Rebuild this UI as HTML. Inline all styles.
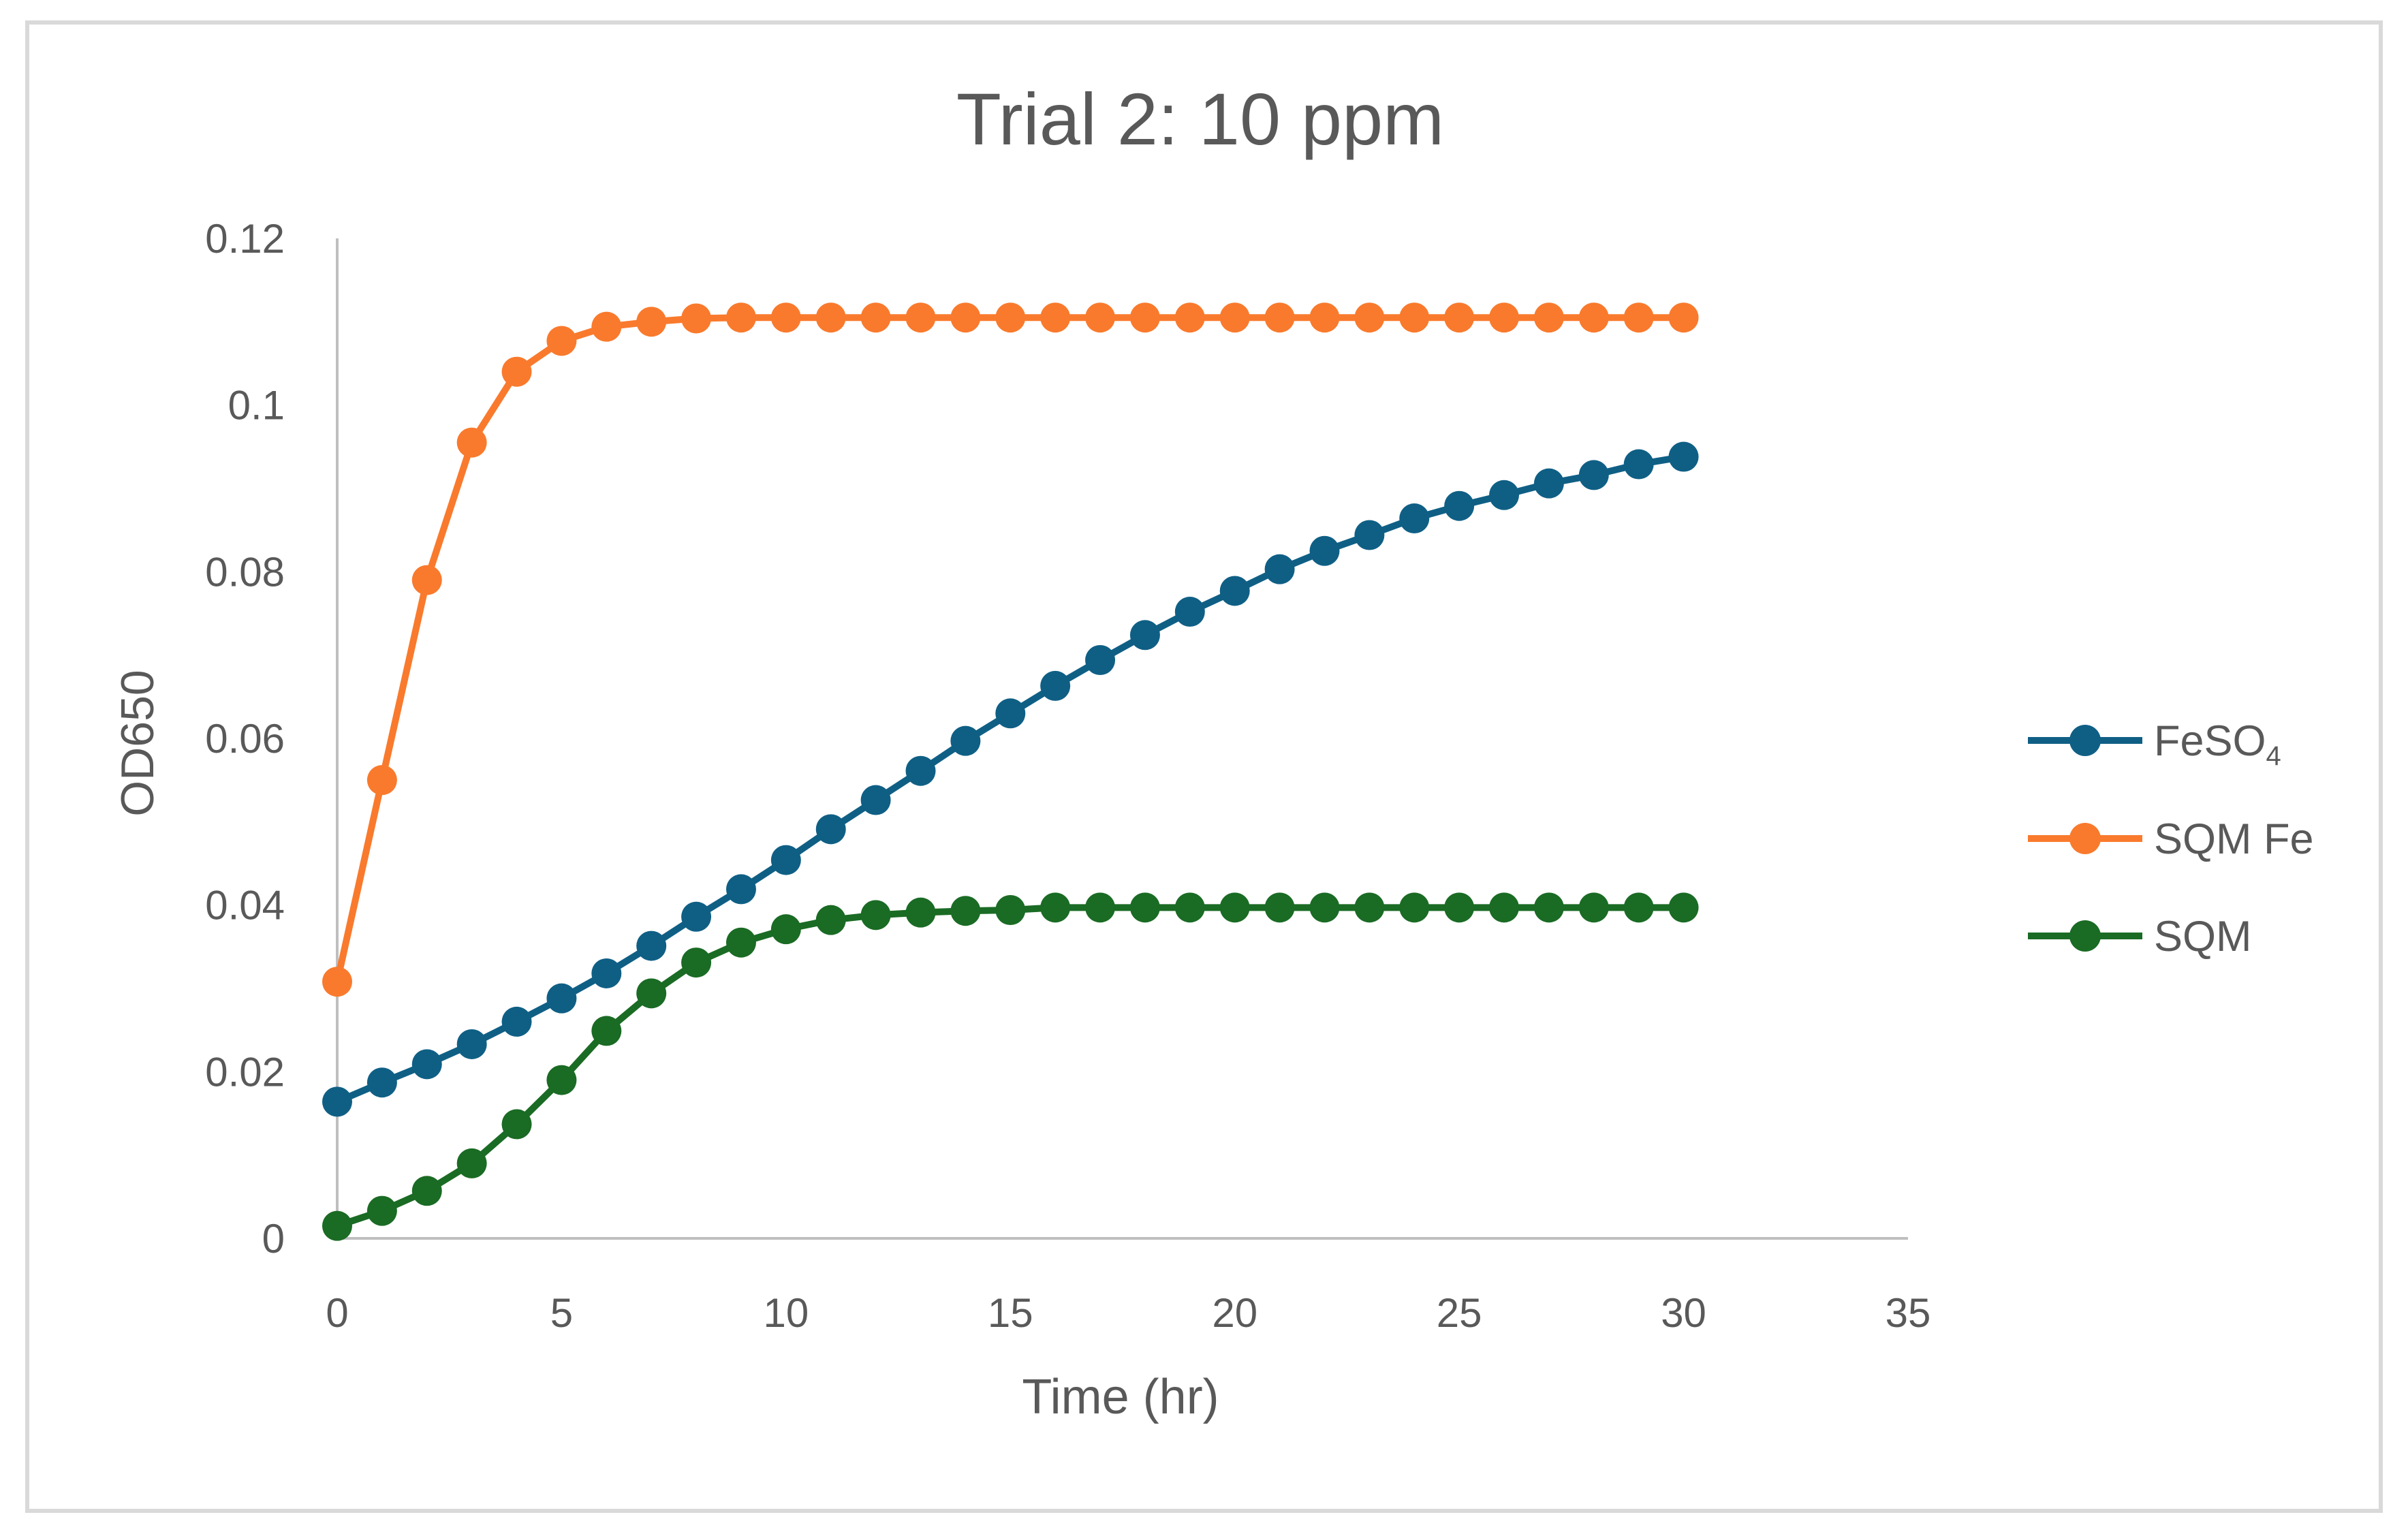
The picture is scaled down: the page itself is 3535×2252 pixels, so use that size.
<!DOCTYPE html>
<html><head><meta charset="utf-8"><style>
html,body{margin:0;padding:0;background:#fff;}
svg{display:block;font-family:"Liberation Sans",sans-serif;}
</style></head><body>
<svg id="chart" width="3535" height="2252" viewBox="0 0 3535 2252">
<rect x="40" y="33" width="3455" height="2185" fill="#fff" stroke="#d9d9d9" stroke-width="6"/>
<text x="1762" y="212" text-anchor="middle" font-size="108" fill="#595959">Trial 2: 10 ppm</text>
<g id="axes"></g>
<g id="series"></g>
<text transform="translate(225,1091) rotate(-90)" text-anchor="middle" font-size="68" fill="#595959">OD650</text>
<text x="1645" y="2075" text-anchor="middle" font-size="72" fill="#595959">Time (hr)</text>
<g id="legend"></g>
</svg>
<script>
const hours = Array.from({length:31},(_,i)=>i);
const feso4 = [0.0164,0.0187,0.0209,0.0233,0.026,0.0288,0.0318,0.0351,0.0386,0.0419,0.0454,0.0491,0.0526,0.0561,0.0597,0.063,0.0663,0.0694,0.0724,0.0752,0.0777,0.0803,0.0825,0.0844,0.0864,0.0879,0.0892,0.0906,0.0916,0.0929,0.0938];
const sqmFe = [0.0308,0.055,0.079,0.0955,0.104,0.1077,0.1094,0.1100,0.1104,0.1105,0.1105,0.1105,0.1105,0.1105,0.1105,0.1105,0.1105,0.1105,0.1105,0.1105,0.1105,0.1105,0.1105,0.1105,0.1105,0.1105,0.1105,0.1105,0.1105,0.1105,0.1105];
const sqm = [0.0015,0.0033,0.0057,0.009,0.0137,0.019,0.0249,0.0294,0.0331,0.0355,0.0371,0.0382,0.0388,0.0391,0.0393,0.0394,0.0397,0.0397,0.0397,0.0397,0.0397,0.0397,0.0397,0.0397,0.0397,0.0397,0.0397,0.0397,0.0397,0.0397,0.0397];
const xTicks = [0,5,10,15,20,25,30,35];
const yTicks = [0,0.02,0.04,0.06,0.08,0.1,0.12];
const yTickLabels = ["0","0.02","0.04","0.06","0.08","0.1","0.12"];
const seriesNames = ["FeSO4","SQM Fe","SQM"];

const NS="http://www.w3.org/2000/svg";
const X0=495,X1=2801,Y0=1818,Y1=350;
const xs=v=>X0+(v/35)*(X1-X0);
const ys=v=>Y0-(v/0.12)*(Y0-Y1);
function mk(tag,attrs,parent){const e=document.createElementNS(NS,tag);for(const k in attrs)e.setAttribute(k,attrs[k]);parent.appendChild(e);return e;}
const axes=document.getElementById('axes');
let a=mk('line',{x1:X0,y1:Y1,x2:X0,y2:Y0,stroke:'#bfbfbf','stroke-width':4},axes);


a=mk('line',{x1:X0,y1:Y0,x2:X1,y2:Y0,stroke:'#bfbfbf','stroke-width':4},axes);


yTicks.forEach((v,i)=>{const t=mk('text',{x:418,y:ys(v)+21,'text-anchor':'end','font-size':60,fill:'#595959'},axes);t.textContent=yTickLabels[i];

});
xTicks.forEach(v=>{const t=mk('text',{x:xs(v),y:1948,'text-anchor':'middle','font-size':60,fill:'#595959'},axes);t.textContent=String(v);

});
const colors=['#0f5f85','#f97a2d','#1a6b24'];
const data=[feso4,sqmFe,sqm];
const sg=document.getElementById('series');
data.forEach((arr,si)=>{
  const g=mk('g',{},sg);
  
  
  const pts=arr.map((v,i)=>xs(hours[i])+','+ys(v)).join(' ');
  const pl=mk('polyline',{points:pts,fill:'none',stroke:colors[si],'stroke-width':10,'stroke-linejoin':'round'},g);
  
  
  arr.forEach((v,i)=>{const c=mk('circle',{cx:xs(hours[i]),cy:ys(v),r:22,fill:colors[si]},g);
  
  });
});
const lg=document.getElementById('legend');
const ly=[1087,1231,1374];
seriesNames.forEach((n,i)=>{
  const g=mk('g',{},lg);
  
  
  mk('line',{x1:2977,y1:ly[i],x2:3145,y2:ly[i],stroke:colors[i],'stroke-width':10},g);
  mk('circle',{cx:3061,cy:ly[i],r:23,fill:colors[i]},g);
  const t=mk('text',{x:3162,y:ly[i]+22,'font-size':63,fill:'#595959'},g);
  if(n==='FeSO4'){t.textContent='FeSO';const s=mk('tspan',{'font-size':40,dy:14},t);s.textContent='4';}
  else t.textContent=n;
});
</script>
</body></html>
